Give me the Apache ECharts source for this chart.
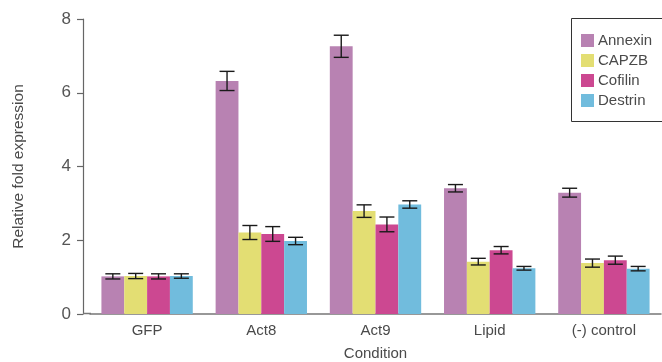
<!DOCTYPE html>
<html><head><meta charset="utf-8">
<script src="https://cdn.jsdelivr.net/npm/echarts@6/dist/echarts.min.js"></script>
<style>html,body{margin:0;padding:0;background:#fff}#c{width:662px;height:362px}</style>
</head><body><div id="c"></div>
<script>
const categories = ['GFP', 'Act8', 'Act9', 'Lipid', '(-) control'];
const seriesNames = ['Annexin', 'CAPZB', 'Cofilin', 'Destrin'];
const annexin = [1.02, 6.32, 7.26, 3.41, 3.29];
const capzb   = [1.03, 2.21, 2.79, 1.42, 1.38];
const cofilin = [1.02, 2.17, 2.43, 1.73, 1.46];
const destrin = [1.03, 1.98, 2.97, 1.24, 1.23];
const annexinErr = [0.07, 0.26, 0.30, 0.10, 0.12];
const capzbErr   = [0.07, 0.19, 0.17, 0.09, 0.11];
const cofilinErr = [0.07, 0.20, 0.20, 0.10, 0.11];
const destrinErr = [0.06, 0.10, 0.10, 0.05, 0.06];
const yTicks = [0, 2, 4, 6, 8];

const values = [annexin, capzb, cofilin, destrin];
const errs = [annexinErr, capzbErr, cofilinErr, destrinErr];
const colors = ['#b882b2', '#e3de73', '#cc4891', '#71bcdd'];
const font = 'Liberation Sans';
const txt = '#4a4a4a';
const catGap = 0.2;

const chart = echarts.init(document.getElementById('c'), null, {renderer: 'canvas'});
const series = [];
seriesNames.forEach((n, i) => {
  series.push({
    name: n, type: 'bar', data: values[i],
    itemStyle: {color: colors[i]},
    barGap: '0%', barCategoryGap: (catGap * 100) + '%',
    z: 2
  });
});
seriesNames.forEach((n, i) => {
  series.push({
    type: 'custom',
    name: n + ' err',
    z: 5,
    data: values[i].map((v, k) => [k, v, errs[i][k]]),
    renderItem: function (params, api) {
      const k = api.value(0), v = api.value(1), e = api.value(2);
      const bandW = api.size([1, 0])[0];
      const barW = bandW * (1 - catGap) / 4;
      const c = api.coord([k, v]);
      const x = c[0] - bandW * (1 - catGap) / 2 + barW * (i + 0.5);
      const top = api.coord([k, v + e])[1];
      const bot = api.coord([k, v - e])[1];
      const hw = 7.5;
      const st = {stroke: '#1a1a1a', lineWidth: 1.4};
      return {type: 'group', children: [
        {type: 'line', shape: {x1: x, y1: top, x2: x, y2: bot}, style: st},
        {type: 'line', shape: {x1: x - hw, y1: top, x2: x + hw, y2: top}, style: st},
        {type: 'line', shape: {x1: x - hw, y1: bot, x2: x + hw, y2: bot}, style: st}
      ]};
    }
  });
});

chart.setOption({
  animation: false,
  backgroundColor: '#fff',
  textStyle: {fontFamily: font},
  grid: {left: 90, right: 1, top: 19, bottom: 48, containLabel: false, outerBoundsMode: 'none'},
  legend: {
    data: seriesNames, orient: 'vertical', left: 576, top: 28,
    itemWidth: 13, itemHeight: 13, itemGap: 5,
    icon: 'rect',
    textStyle: {fontFamily: font, fontSize: 15, color: txt, padding: [0, 0, 0, -1]}
  },
  xAxis: {
    type: 'category', data: categories,
    name: 'Condition', nameLocation: 'middle', nameGap: 32,
    nameTextStyle: {fontFamily: font, fontSize: 15, color: txt},
    axisLine: {lineStyle: {color: '#777', width: 1.5}},
    axisTick: {show: false},
    axisLabel: {fontFamily: font, fontSize: 15, color: txt, margin: 9}
  },
  yAxis: {
    type: 'value', min: yTicks[0], max: yTicks[yTicks.length - 1], interval: 2,
    offset: 7,
    name: 'Relative fold expression', nameLocation: 'middle', nameGap: 56,
    nameTextStyle: {fontFamily: font, fontSize: 15.5, color: txt},
    axisLine: {show: true, lineStyle: {color: '#666', width: 1.2}},
    axisTick: {show: true, length: 6, lineStyle: {color: '#666', width: 1.2}},
    splitLine: {show: false},
    axisLabel: {fontFamily: font, fontSize: 17, color: '#555', margin: 12}
  },
  graphic: [
    {type: 'line', shape: {x1: 83, y1: 313.5, x2: 91, y2: 313.5}, style: {stroke: '#777', lineWidth: 1.5}, z: 10},
    {type: 'rect', shape: {x: 571.5, y: 18.5, width: 120, height: 103}, style: {fill: 'none', stroke: '#333', lineWidth: 1}, z: 10}
  ],
  series: series
});
</script></body></html>
